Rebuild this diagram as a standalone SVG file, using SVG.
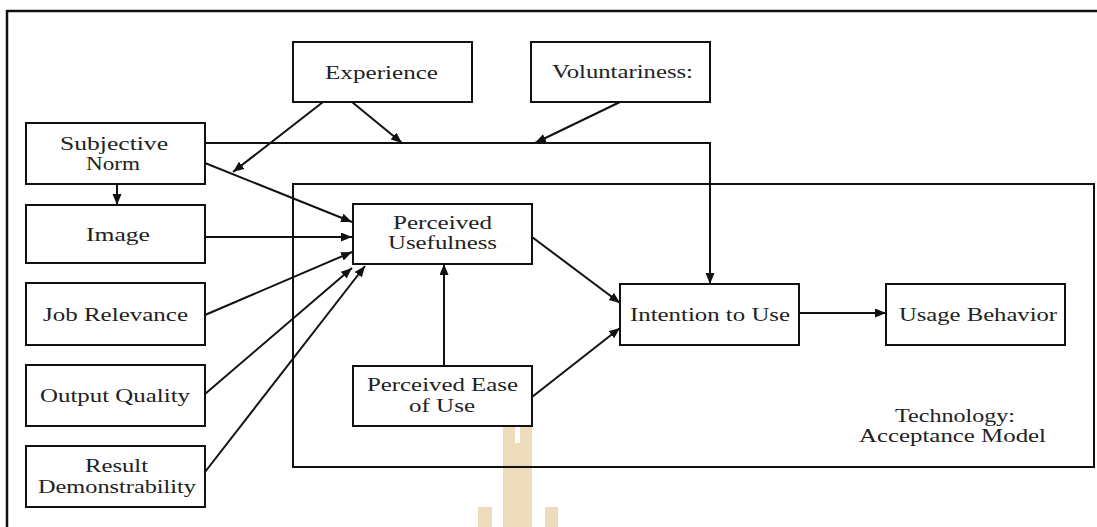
<svg xmlns="http://www.w3.org/2000/svg" width="1097" height="527" viewBox="0 0 1097 527" font-family="'Liberation Serif', 'Times New Roman', 'DejaVu Serif', serif">
<style>
.box{fill:#fff;stroke:#111;stroke-width:2}
.frame{fill:none;stroke:#111;stroke-width:2.5}
.ln{fill:none;stroke:#111;stroke-width:2}
.t{font-family:"Liberation Serif","Times New Roman","DejaVu Serif",serif;font-size:18px;fill:#222}
.wm{fill:#ecdcbc}
</style>
<defs>
<marker id="ah" markerUnits="userSpaceOnUse" markerWidth="12" markerHeight="10" refX="11" refY="4.5" orient="auto">
<path d="M0,0 L11,4.5 L0,9 z" fill="#111"/>
</marker>
</defs>
<rect width="1097" height="527" fill="#fff"/>
<g id="watermark">
<rect class="wm" x="503" y="412" width="29" height="115"/>
<rect x="515" y="412" width="5" height="31" fill="#fff"/>
<rect class="wm" x="478" y="507" width="14" height="20"/>
<rect class="wm" x="545" y="507" width="13" height="20"/>
</g>
<g id="frame">
<path class="frame" d="M7,527 V11 H1097"/>
</g>
<g id="tam">
<rect x="293" y="184" width="801" height="283" fill="none" stroke="#111" stroke-width="2"/>
<text class="t" x="895" y="422" textLength="120" lengthAdjust="spacingAndGlyphs">Technology:</text>
<text class="t" x="859" y="442" textLength="187" lengthAdjust="spacingAndGlyphs">Acceptance Model</text>
</g>
<g id="connectors">
<path class="ln" d="M205,143 H710 V284" marker-end="url(#ah)"/>
<line class="ln" x1="323" y1="102" x2="233" y2="172" marker-end="url(#ah)"/>
<line class="ln" x1="352" y1="102" x2="402" y2="143" marker-end="url(#ah)"/>
<line class="ln" x1="620" y1="102" x2="535" y2="143" marker-end="url(#ah)"/>
<line class="ln" x1="205" y1="163" x2="352" y2="222" marker-end="url(#ah)"/>
<line class="ln" x1="117" y1="184" x2="117" y2="205" marker-end="url(#ah)"/>
<line class="ln" x1="205" y1="237" x2="352" y2="237" marker-end="url(#ah)"/>
<line class="ln" x1="205" y1="315" x2="352" y2="252" marker-end="url(#ah)"/>
<line class="ln" x1="205" y1="394" x2="352" y2="268" marker-end="url(#ah)"/>
<line class="ln" x1="205" y1="472" x2="365" y2="266" marker-end="url(#ah)"/>
<line class="ln" x1="444" y1="366" x2="444" y2="264" marker-end="url(#ah)"/>
<line class="ln" x1="532" y1="237" x2="620" y2="303" marker-end="url(#ah)"/>
<line class="ln" x1="532" y1="397" x2="620" y2="328" marker-end="url(#ah)"/>
<line class="ln" x1="799" y1="313" x2="886" y2="313" marker-end="url(#ah)"/>
</g>
<g id="experience">
<rect class="box" x="293" y="42" width="179" height="60"/>
<text class="t" x="325" y="79" textLength="113" lengthAdjust="spacingAndGlyphs">Experience</text>
</g>
<g id="voluntariness">
<rect class="box" x="531" y="42" width="179" height="60"/>
<text class="t" x="552" y="78" textLength="141" lengthAdjust="spacingAndGlyphs">Voluntariness:</text>
</g>
<g id="subjective-norm">
<rect class="box" x="26" y="123" width="179" height="61"/>
<text class="t" x="60" y="150" textLength="108" lengthAdjust="spacingAndGlyphs">Subjective</text>
<text class="t" x="86" y="170" textLength="54" lengthAdjust="spacingAndGlyphs">Norm</text>
</g>
<g id="image">
<rect class="box" x="26" y="205" width="179" height="58"/>
<text class="t" x="86" y="241" textLength="64" lengthAdjust="spacingAndGlyphs">Image</text>
</g>
<g id="job-relevance">
<rect class="box" x="26" y="283" width="179" height="62"/>
<text class="t" x="43" y="321" textLength="145" lengthAdjust="spacingAndGlyphs">Job Relevance</text>
</g>
<g id="output-quality">
<rect class="box" x="26" y="365" width="179" height="61"/>
<text class="t" x="40" y="402" textLength="150" lengthAdjust="spacingAndGlyphs">Output Quality</text>
</g>
<g id="result-demonstrability">
<rect class="box" x="26" y="446" width="179" height="61"/>
<text class="t" x="85" y="472" textLength="63" lengthAdjust="spacingAndGlyphs">Result</text>
<text class="t" x="38" y="493" textLength="158" lengthAdjust="spacingAndGlyphs">Demonstrability</text>
</g>
<g id="perceived-usefulness">
<rect class="box" x="353" y="204" width="179" height="60"/>
<text class="t" x="393" y="229" textLength="99" lengthAdjust="spacingAndGlyphs">Perceived</text>
<text class="t" x="388" y="249" textLength="109" lengthAdjust="spacingAndGlyphs">Usefulness</text>
</g>
<g id="perceived-ease-of-use">
<rect class="box" x="353" y="366" width="179" height="60"/>
<text class="t" x="367" y="391" textLength="151" lengthAdjust="spacingAndGlyphs">Perceived Ease</text>
<text class="t" x="409" y="412" textLength="66" lengthAdjust="spacingAndGlyphs">of Use</text>
</g>
<g id="intention-to-use">
<rect class="box" x="620" y="284" width="179" height="61"/>
<text class="t" x="630" y="321" textLength="160" lengthAdjust="spacingAndGlyphs">Intention to Use</text>
</g>
<g id="usage-behavior">
<rect class="box" x="886" y="284" width="179" height="61"/>
<text class="t" x="899" y="321" textLength="158" lengthAdjust="spacingAndGlyphs">Usage Behavior</text>
</g>
</svg>
